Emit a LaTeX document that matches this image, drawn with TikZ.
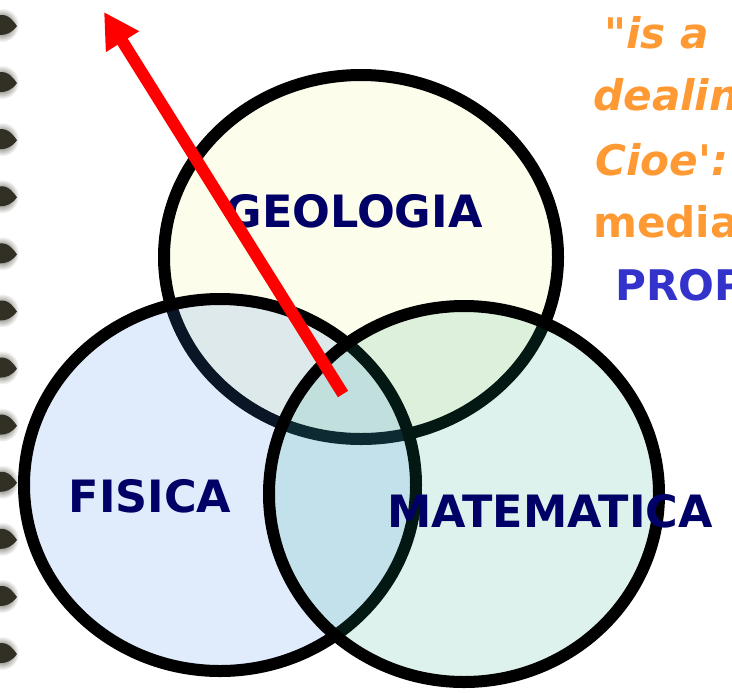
\documentclass[tikz,border=0pt]{standalone}
\usepackage{fontspec}
\setmainfont{DejaVu Sans}
\newfontfamily\notefont{DejaVu Sans}
\usepackage{tikz}
\usetikzlibrary{positioning,arrows.meta}
\definecolor{labelnavy}{RGB}{0,0,102}
\definecolor{noteorange}{RGB}{255,153,51}
\definecolor{noteblue}{RGB}{51,51,204}
\definecolor{geofill}{RGB}{253,253,236}
\definecolor{fisfill}{RGB}{64,134,236}
\definecolor{matfill}{RGB}{33,166,133}
\definecolor{ringcol}{RGB}{50,48,36}
\tikzset{
  setring/.style={draw=black, line width=3.6mm},
  setlabel/.style={font=\bfseries\fontsize{38}{40}\selectfont, text=labelnavy, inner sep=0pt},
  notetext/.style={font=\notefont\bfseries\fontsize{36}{38}\selectfont, text=noteorange, anchor=base west, inner sep=0pt},
  noteslant/.style={notetext, font=\notefont\bfseries\itshape\fontsize{36}{38}\selectfont},
  pointer/.style={-{Triangle[length=10.5mm, width=11mm]}, line width=3.6mm, red}
}
\begin{document}
\begin{tikzpicture}[x=0.3mm, y=-0.3mm]
  \useasboundingbox (0,0) rectangle (732,692);
  \clip (0,0) rectangle (732,692);
  % binding rings on the left edge
  \foreach \k [evaluate=\k as \y using 25+57.1*\k] in {0,...,11} {
    \shade[inner color=ringcol, outer color=white] (2,\y) ellipse [x radius=17, y radius=17];
    \fill[ringcol] (0,\y-10) .. controls (9,\y-11) and (14,\y-3) .. (17,\y+1) .. controls (12,\y+8) and (6,\y+10) .. (0,\y+10) -- cycle;
  }
  % the three sets
  \draw[setring, fill=geofill] (361,257) ellipse [x radius=197, y radius=182];
  \draw[setring, fill=fisfill, fill opacity=0.16] (220,485) ellipse [x radius=196, y radius=186];
  \draw[setring, fill=matfill, fill opacity=0.15] (464,494) ellipse [x radius=195, y radius=188];
  \node[setlabel] (geolab) at (354,211) {GEOLOGIA};
  \node[setlabel] (fislab) at (150,496) {FISICA};
  \node[setlabel] (matlab) at (550,511) {MATEMATICA};
  % note on the right
  \node[noteslant] (nisa) at (604,48) {"is a};
  \node[noteslant] (ndeal) at (593,110) {dealin};
  \node[noteslant] (ncioe) at (595,175) {Cioe':};
  \node[notetext] (nmedia) at (593,237) {media};
  \node[notetext, text=noteblue] (nprop) at (615,300) {PROP};
  % pointer
  \coordinate (ptail) at (343,394);
  \coordinate (ptip) at (104,12);
  \draw[pointer] (ptail) -- (ptip);
\end{tikzpicture}
\end{document}
